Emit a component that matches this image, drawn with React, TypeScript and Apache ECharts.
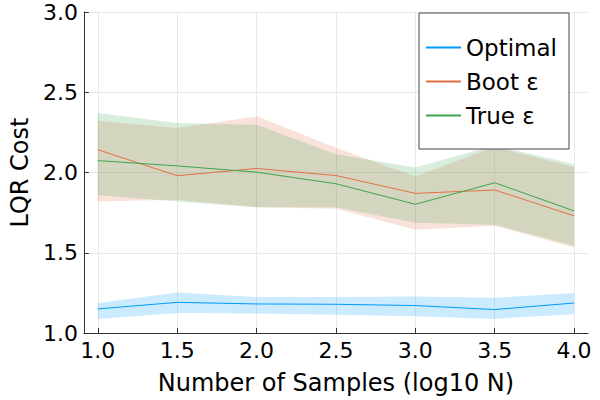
import { useEffect, useRef } from "react";
import * as echarts from "echarts";

const xValues = [1.0, 1.5, 2.0, 2.5, 3.0, 3.5, 4.0];
const xTicks = [1.0, 1.5, 2.0, 2.5, 3.0, 3.5, 4.0];

const optimal = [1.15, 1.191, 1.181, 1.179, 1.171, 1.146, 1.187];
const optimalLo = [1.088, 1.125, 1.121, 1.113, 1.105, 1.088, 1.117];
const optimalHi = [1.187, 1.253, 1.224, 1.224, 1.228, 1.22, 1.249];

const boot = [2.142, 1.98, 2.025, 1.981, 1.87, 1.891, 1.73];
const bootLo = [1.819, 1.83, 1.784, 1.774, 1.644, 1.668, 1.533];
const bootHi = [2.323, 2.278, 2.35, 2.154, 1.975, 2.16, 2.035];

const trueEps = [2.074, 2.041, 2.002, 1.93, 1.802, 1.936, 1.761];
const trueLo = [1.86, 1.82, 1.784, 1.784, 1.687, 1.675, 1.543];
const trueHi = [2.37, 2.309, 2.298, 2.113, 2.031, 2.17, 2.051];

const names = ["Optimal", "Boot ε", "True ε"];
const colors = ["#009AFA", "#E36F47", "#3EA44E"];
const fills = ["rgba(0,154,250,0.2)", "rgba(227,111,71,0.2)", "rgba(62,164,78,0.2)"];

const FONT = "DejaVu Sans";

function band(name: string, lo: number[], hi: number[], fill: string) {
  return {
    type: "custom",
    name: name + " band",
    silent: true,
    z: 1,
    data: xValues.map((x, i) => [x, lo[i], hi[i]]),
    encode: { x: 0, y: [1, 2] },
    renderItem: (params: any, api: any) => {
      if (params.dataIndex !== 0) return null;
      const upper = xValues.map((x, i) => api.coord([x, hi[i]]));
      const lower = xValues.map((x, i) => api.coord([x, lo[i]])).reverse();
      return {
        type: "polygon",
        shape: { points: [...upper, ...lower] },
        style: { fill, stroke: "none" },
      };
    },
  };
}

function line(name: string, vals: number[], color: string) {
  return {
    type: "line",
    name,
    data: xValues.map((x, i) => [x, vals[i]]),
    showSymbol: false,
    symbol: "none",
    lineStyle: { width: 1, color },
    itemStyle: { color },
    z: 3,
  };
}

export default function App() {
  const ref = useRef<HTMLDivElement>(null);
  useEffect(() => {
    const chart = echarts.init(ref.current as HTMLDivElement, null, { renderer: "svg" });
    chart.setOption({
      animation: false,
      textStyle: { fontFamily: FONT },
      grid: { left: 79, right: 12, top: 12, bottom: 63 },
      legend: {
        data: names,
        orient: "vertical",
        left: 419,
        top: 13,
        padding: [23, 12, 22, 7],
        itemGap: 11,
        itemWidth: 35,
        itemHeight: 2,
        itemTextGap: 6,
        icon: "rect",
        borderColor: "#444",
        borderWidth: 1,
        backgroundColor: "#fff",
        textStyle: { fontFamily: FONT, fontSize: 23, color: "#000" },
      },
      xAxis: {
        type: "value",
        min: 0.9126,
        max: 4.0874,
        name: "Number of Samples (log10 N)",
        nameLocation: "middle",
        nameGap: 38,
        nameTextStyle: { fontFamily: FONT, fontSize: 24, color: "#000" },
        axisLine: { show: true, lineStyle: { color: "#333", width: 1 } },
        axisTick: { show: true, inside: true, length: 5, customValues: xTicks, lineStyle: { color: "#333" } },
        axisLabel: {
          customValues: xTicks,
          formatter: (v: number) => v.toFixed(1),
          fontFamily: FONT,
          fontSize: 22,
          color: "#000",
          margin: 6,
        },
        splitLine: { show: true, lineStyle: { color: "#e9e9e9", width: 1 } },
      },
      yAxis: {
        type: "value",
        min: 1,
        max: 3,
        interval: 0.5,
        name: "LQR Cost",
        nameLocation: "middle",
        nameGap: 46,
        nameTextStyle: { fontFamily: FONT, fontSize: 24, color: "#000" },
        axisLine: { show: true, lineStyle: { color: "#333", width: 1 } },
        axisTick: { show: true, inside: true, length: 5, lineStyle: { color: "#333" } },
        axisLabel: {
          formatter: (v: number) => v.toFixed(1),
          fontFamily: FONT,
          fontSize: 22,
          color: "#000",
          margin: 6,
        },
        splitLine: { show: true, lineStyle: { color: "#e9e9e9", width: 1 } },
      },
      series: [
        band(names[0], optimalLo, optimalHi, fills[0]),
        band(names[1], bootLo, bootHi, fills[1]),
        band(names[2], trueLo, trueHi, fills[2]),
        line(names[0], optimal, colors[0]),
        line(names[1], boot, colors[1]),
        line(names[2], trueEps, colors[2]),
      ],
    });
    return () => chart.dispose();
  }, []);
  return <div ref={ref} style={{ position: "absolute", left: 0, top: 0, width: 600, height: 400 }} />;
}
